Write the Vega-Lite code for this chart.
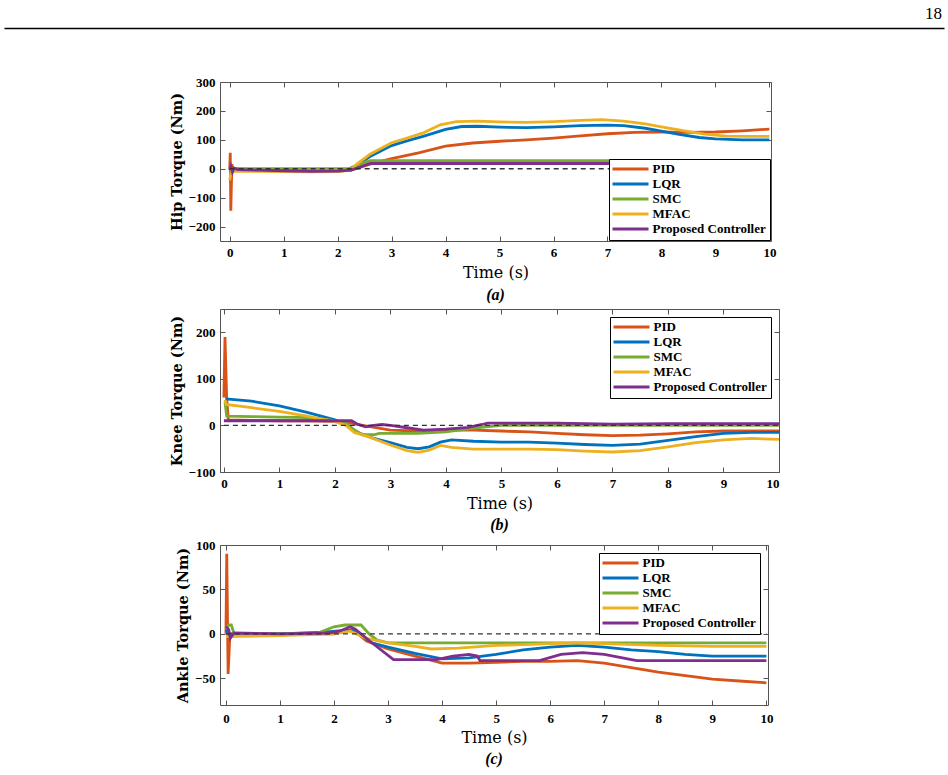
{
  "$schema": "https://vega.github.io/schema/vega-lite/v6.json",
  "padding": {"top": 5, "left": 4, "right": 4, "bottom": 2},
  "background": "white",
  "datasets": {
    "hip": [
      {"c":"PID","t":0,"v":0},{"c":"PID","t":0.01,"v":55},{"c":"PID","t":0.02,"v":-145},{"c":"PID","t":0.04,"v":15},{"c":"PID","t":0.07,"v":-5},{"c":"PID","t":0.5,"v":-6},{"c":"PID","t":1,"v":-8},{"c":"PID","t":1.5,"v":-9},{"c":"PID","t":2,"v":-8},{"c":"PID","t":2.25,"v":-5},{"c":"PID","t":2.4,"v":4},{"c":"PID","t":2.6,"v":16},{"c":"PID","t":3,"v":35},{"c":"PID","t":3.5,"v":55},{"c":"PID","t":4,"v":78},{"c":"PID","t":4.5,"v":89},{"c":"PID","t":5,"v":95},{"c":"PID","t":5.5,"v":100},{"c":"PID","t":6,"v":106},{"c":"PID","t":6.5,"v":114},{"c":"PID","t":7,"v":121},{"c":"PID","t":7.5,"v":126},{"c":"PID","t":8,"v":127},{"c":"PID","t":8.5,"v":126},{"c":"PID","t":9,"v":127},{"c":"PID","t":9.5,"v":131},{"c":"PID","t":10,"v":137},
      {"c":"LQR","t":0,"v":5},{"c":"LQR","t":0.05,"v":0},{"c":"LQR","t":0.5,"v":-3},{"c":"LQR","t":1,"v":-6},{"c":"LQR","t":1.5,"v":-8},{"c":"LQR","t":2,"v":-7},{"c":"LQR","t":2.25,"v":-4},{"c":"LQR","t":2.4,"v":18},{"c":"LQR","t":2.6,"v":42},{"c":"LQR","t":3,"v":80},{"c":"LQR","t":3.3,"v":97},{"c":"LQR","t":3.6,"v":113},{"c":"LQR","t":4,"v":136},{"c":"LQR","t":4.3,"v":146},{"c":"LQR","t":4.6,"v":147},{"c":"LQR","t":5,"v":144},{"c":"LQR","t":5.5,"v":142},{"c":"LQR","t":6,"v":145},{"c":"LQR","t":6.5,"v":149},{"c":"LQR","t":7,"v":151},{"c":"LQR","t":7.3,"v":149},{"c":"LQR","t":7.7,"v":140},{"c":"LQR","t":8,"v":130},{"c":"LQR","t":8.3,"v":120},{"c":"LQR","t":8.7,"v":108},{"c":"LQR","t":9,"v":103},{"c":"LQR","t":9.5,"v":100},{"c":"LQR","t":10,"v":100},
      {"c":"SMC","t":0,"v":0},{"c":"SMC","t":2.2,"v":0},{"c":"SMC","t":2.4,"v":15},{"c":"SMC","t":2.6,"v":28},{"c":"SMC","t":10,"v":28},
      {"c":"MFAC","t":0,"v":-40},{"c":"MFAC","t":0.03,"v":-8},{"c":"MFAC","t":0.5,"v":-9},{"c":"MFAC","t":1,"v":-10},{"c":"MFAC","t":1.5,"v":-11},{"c":"MFAC","t":2,"v":-10},{"c":"MFAC","t":2.25,"v":-5},{"c":"MFAC","t":2.35,"v":15},{"c":"MFAC","t":2.6,"v":50},{"c":"MFAC","t":3,"v":90},{"c":"MFAC","t":3.3,"v":107},{"c":"MFAC","t":3.6,"v":125},{"c":"MFAC","t":3.9,"v":152},{"c":"MFAC","t":4.2,"v":163},{"c":"MFAC","t":4.6,"v":165},{"c":"MFAC","t":5,"v":162},{"c":"MFAC","t":5.5,"v":160},{"c":"MFAC","t":6,"v":163},{"c":"MFAC","t":6.5,"v":167},{"c":"MFAC","t":6.9,"v":170},{"c":"MFAC","t":7.3,"v":165},{"c":"MFAC","t":7.7,"v":155},{"c":"MFAC","t":8,"v":145},{"c":"MFAC","t":8.4,"v":132},{"c":"MFAC","t":8.8,"v":120},{"c":"MFAC","t":9.2,"v":113},{"c":"MFAC","t":9.6,"v":112},{"c":"MFAC","t":10,"v":112},
      {"c":"Proposed Controller","t":0,"v":-5},{"c":"Proposed Controller","t":0.02,"v":8},{"c":"Proposed Controller","t":0.05,"v":-12},{"c":"Proposed Controller","t":0.08,"v":2},{"c":"Proposed Controller","t":0.15,"v":-3},{"c":"Proposed Controller","t":0.5,"v":-5},{"c":"Proposed Controller","t":1,"v":-7},{"c":"Proposed Controller","t":1.5,"v":-9},{"c":"Proposed Controller","t":2,"v":-8},{"c":"Proposed Controller","t":2.25,"v":-5},{"c":"Proposed Controller","t":2.4,"v":5},{"c":"Proposed Controller","t":2.6,"v":18},{"c":"Proposed Controller","t":10,"v":18}
    ],
    "knee": [
      {"c":"PID","t":0,"v":60},{"c":"PID","t":0.02,"v":190},{"c":"PID","t":0.05,"v":60},{"c":"PID","t":0.08,"v":12},{"c":"PID","t":0.5,"v":11},{"c":"PID","t":1,"v":10},{"c":"PID","t":1.5,"v":10},{"c":"PID","t":2,"v":9},{"c":"PID","t":2.2,"v":7},{"c":"PID","t":2.5,"v":0},{"c":"PID","t":3,"v":-10},{"c":"PID","t":3.5,"v":-12},{"c":"PID","t":4,"v":-10},{"c":"PID","t":4.5,"v":-10},{"c":"PID","t":5,"v":-12},{"c":"PID","t":5.5,"v":-14},{"c":"PID","t":6,"v":-17},{"c":"PID","t":6.5,"v":-20},{"c":"PID","t":7,"v":-22},{"c":"PID","t":7.5,"v":-21},{"c":"PID","t":8,"v":-18},{"c":"PID","t":8.5,"v":-14},{"c":"PID","t":9,"v":-12},{"c":"PID","t":9.5,"v":-12},{"c":"PID","t":10,"v":-12},
      {"c":"LQR","t":0.03,"v":57},{"c":"LQR","t":0.5,"v":52},{"c":"LQR","t":1,"v":42},{"c":"LQR","t":1.5,"v":28},{"c":"LQR","t":2,"v":12},{"c":"LQR","t":2.2,"v":2},{"c":"LQR","t":2.4,"v":-15},{"c":"LQR","t":2.7,"v":-28},{"c":"LQR","t":3,"v":-37},{"c":"LQR","t":3.3,"v":-47},{"c":"LQR","t":3.5,"v":-50},{"c":"LQR","t":3.7,"v":-46},{"c":"LQR","t":3.9,"v":-36},{"c":"LQR","t":4.1,"v":-31},{"c":"LQR","t":4.5,"v":-34},{"c":"LQR","t":5,"v":-36},{"c":"LQR","t":5.5,"v":-36},{"c":"LQR","t":6,"v":-38},{"c":"LQR","t":6.5,"v":-41},{"c":"LQR","t":7,"v":-43},{"c":"LQR","t":7.5,"v":-40},{"c":"LQR","t":8,"v":-32},{"c":"LQR","t":8.5,"v":-24},{"c":"LQR","t":9,"v":-17},{"c":"LQR","t":9.5,"v":-15},{"c":"LQR","t":10,"v":-15},
      {"c":"SMC","t":0.02,"v":50},{"c":"SMC","t":0.05,"v":20},{"c":"SMC","t":0.5,"v":19},{"c":"SMC","t":1,"v":18},{"c":"SMC","t":1.5,"v":17},{"c":"SMC","t":1.9,"v":12},{"c":"SMC","t":2.2,"v":5},{"c":"SMC","t":2.35,"v":-10},{"c":"SMC","t":2.5,"v":-20},{"c":"SMC","t":2.7,"v":-20},{"c":"SMC","t":2.8,"v":-17},{"c":"SMC","t":3.5,"v":-17},{"c":"SMC","t":4,"v":-14},{"c":"SMC","t":4.5,"v":-6},{"c":"SMC","t":5,"v":0},{"c":"SMC","t":10,"v":0},
      {"c":"MFAC","t":0.02,"v":55},{"c":"MFAC","t":0.04,"v":45},{"c":"MFAC","t":0.5,"v":38},{"c":"MFAC","t":1,"v":30},{"c":"MFAC","t":1.5,"v":20},{"c":"MFAC","t":2,"v":8},{"c":"MFAC","t":2.2,"v":0},{"c":"MFAC","t":2.35,"v":-15},{"c":"MFAC","t":2.6,"v":-24},{"c":"MFAC","t":3,"v":-42},{"c":"MFAC","t":3.3,"v":-54},{"c":"MFAC","t":3.5,"v":-58},{"c":"MFAC","t":3.7,"v":-53},{"c":"MFAC","t":3.9,"v":-43},{"c":"MFAC","t":4.1,"v":-47},{"c":"MFAC","t":4.5,"v":-51},{"c":"MFAC","t":5,"v":-51},{"c":"MFAC","t":5.5,"v":-51},{"c":"MFAC","t":6,"v":-52},{"c":"MFAC","t":6.5,"v":-55},{"c":"MFAC","t":7,"v":-57},{"c":"MFAC","t":7.5,"v":-54},{"c":"MFAC","t":8,"v":-46},{"c":"MFAC","t":8.5,"v":-37},{"c":"MFAC","t":9,"v":-31},{"c":"MFAC","t":9.5,"v":-28},{"c":"MFAC","t":10,"v":-30},
      {"c":"Proposed Controller","t":0,"v":10},{"c":"Proposed Controller","t":2.3,"v":10},{"c":"Proposed Controller","t":2.4,"v":3},{"c":"Proposed Controller","t":2.55,"v":-3},{"c":"Proposed Controller","t":2.7,"v":0},{"c":"Proposed Controller","t":2.85,"v":2},{"c":"Proposed Controller","t":3,"v":0},{"c":"Proposed Controller","t":3.3,"v":-5},{"c":"Proposed Controller","t":3.6,"v":-10},{"c":"Proposed Controller","t":4,"v":-8},{"c":"Proposed Controller","t":4.4,"v":-4},{"c":"Proposed Controller","t":4.65,"v":2},{"c":"Proposed Controller","t":4.75,"v":5},{"c":"Proposed Controller","t":5,"v":5},{"c":"Proposed Controller","t":6,"v":5},{"c":"Proposed Controller","t":7,"v":3},{"c":"Proposed Controller","t":8,"v":4},{"c":"Proposed Controller","t":9,"v":4},{"c":"Proposed Controller","t":10,"v":4}
    ],
    "ankle": [
      {"c":"PID","t":0,"v":0},{"c":"PID","t":0.015,"v":90},{"c":"PID","t":0.04,"v":-45},{"c":"PID","t":0.07,"v":-5},{"c":"PID","t":0.1,"v":0},{"c":"PID","t":1,"v":0},{"c":"PID","t":2,"v":0},{"c":"PID","t":2.2,"v":3},{"c":"PID","t":2.35,"v":5},{"c":"PID","t":2.6,"v":-8},{"c":"PID","t":3,"v":-17},{"c":"PID","t":3.5,"v":-25},{"c":"PID","t":4,"v":-33},{"c":"PID","t":4.5,"v":-33},{"c":"PID","t":5,"v":-32},{"c":"PID","t":5.5,"v":-31},{"c":"PID","t":6,"v":-31},{"c":"PID","t":6.5,"v":-30},{"c":"PID","t":7,"v":-33},{"c":"PID","t":7.5,"v":-38},{"c":"PID","t":8,"v":-43},{"c":"PID","t":8.5,"v":-47},{"c":"PID","t":9,"v":-51},{"c":"PID","t":9.5,"v":-53},{"c":"PID","t":10,"v":-55},
      {"c":"LQR","t":0,"v":5},{"c":"LQR","t":0.05,"v":0},{"c":"LQR","t":1,"v":0},{"c":"LQR","t":1.8,"v":2},{"c":"LQR","t":2.2,"v":4},{"c":"LQR","t":2.4,"v":3},{"c":"LQR","t":2.7,"v":-10},{"c":"LQR","t":3,"v":-15},{"c":"LQR","t":3.5,"v":-22},{"c":"LQR","t":4,"v":-28},{"c":"LQR","t":4.5,"v":-27},{"c":"LQR","t":5,"v":-23},{"c":"LQR","t":5.5,"v":-18},{"c":"LQR","t":6,"v":-15},{"c":"LQR","t":6.5,"v":-13},{"c":"LQR","t":7,"v":-15},{"c":"LQR","t":7.5,"v":-18},{"c":"LQR","t":8,"v":-20},{"c":"LQR","t":8.5,"v":-23},{"c":"LQR","t":9,"v":-25},{"c":"LQR","t":10,"v":-25},
      {"c":"SMC","t":0,"v":5},{"c":"SMC","t":0.05,"v":10},{"c":"SMC","t":0.1,"v":10},{"c":"SMC","t":0.15,"v":0},{"c":"SMC","t":1,"v":0},{"c":"SMC","t":1.7,"v":1},{"c":"SMC","t":2,"v":8},{"c":"SMC","t":2.2,"v":10},{"c":"SMC","t":2.5,"v":10},{"c":"SMC","t":2.65,"v":0},{"c":"SMC","t":2.8,"v":-7},{"c":"SMC","t":3,"v":-10},{"c":"SMC","t":10,"v":-10},
      {"c":"MFAC","t":0,"v":-3},{"c":"MFAC","t":1,"v":-2},{"c":"MFAC","t":2,"v":0},{"c":"MFAC","t":2.3,"v":3},{"c":"MFAC","t":2.6,"v":-5},{"c":"MFAC","t":3,"v":-10},{"c":"MFAC","t":3.5,"v":-14},{"c":"MFAC","t":3.8,"v":-17},{"c":"MFAC","t":4.3,"v":-16},{"c":"MFAC","t":5,"v":-13},{"c":"MFAC","t":5.5,"v":-12},{"c":"MFAC","t":6,"v":-11},{"c":"MFAC","t":6.5,"v":-10},{"c":"MFAC","t":7,"v":-11},{"c":"MFAC","t":8,"v":-13},{"c":"MFAC","t":9,"v":-14},{"c":"MFAC","t":10,"v":-14},
      {"c":"Proposed Controller","t":0,"v":8},{"c":"Proposed Controller","t":0.05,"v":5},{"c":"Proposed Controller","t":0.08,"v":-5},{"c":"Proposed Controller","t":0.15,"v":1},{"c":"Proposed Controller","t":1,"v":0},{"c":"Proposed Controller","t":1.9,"v":1},{"c":"Proposed Controller","t":2.1,"v":3},{"c":"Proposed Controller","t":2.3,"v":8},{"c":"Proposed Controller","t":2.4,"v":5},{"c":"Proposed Controller","t":2.7,"v":-10},{"c":"Proposed Controller","t":3.1,"v":-29},{"c":"Proposed Controller","t":3.9,"v":-29},{"c":"Proposed Controller","t":4.2,"v":-25},{"c":"Proposed Controller","t":4.5,"v":-23},{"c":"Proposed Controller","t":4.65,"v":-25},{"c":"Proposed Controller","t":4.7,"v":-30},{"c":"Proposed Controller","t":5.8,"v":-30},{"c":"Proposed Controller","t":6.2,"v":-23},{"c":"Proposed Controller","t":6.6,"v":-21},{"c":"Proposed Controller","t":7,"v":-23},{"c":"Proposed Controller","t":7.6,"v":-30},{"c":"Proposed Controller","t":10,"v":-30}
    ]
  },
  "vconcat": [
    {
      "width": 940,
      "height": 43,
      "data": {"values": [{"pos": 1, "row": 1, "page": "18"}]},
      "mark": {"type": "text", "align": "right", "baseline": "bottom", "dx": -2, "dy": -5, "font": "Liberation Serif", "fontSize": 17, "color": "#000"},
      "encoding": {
        "x": {"field": "pos", "type": "quantitative", "scale": {"domain": [0, 1], "nice": false}, "axis": {"orient": "top", "domain": true, "domainColor": "#000", "domainWidth": 1.5, "ticks": false, "labels": false, "title": null}},
        "y": {"field": "row", "type": "quantitative", "scale": {"domain": [0, 1], "nice": false}, "axis": null},
        "text": {"field": "page"}
      }
    },
    {
      "hconcat": [
        {
          "width": 164,
          "height": 10,
          "data": {"values": [{"k": 0}]},
          "mark": {"type": "point", "opacity": 0},
          "encoding": {}
        },
        {
          "vconcat": [
            {
              "width": 551,
              "height": 159,
              "view": {"stroke": "#555"},
              "title": {"text": "(a)", "orient": "bottom", "anchor": "middle", "font": "Liberation Serif", "fontStyle": "italic", "fontWeight": "bold", "fontSize": 16, "color": "#000", "offset": 7},
              "layer": [
                {
                  "data": {"name": "hip"},
                  "mark": {"type": "line", "strokeWidth": 2.8, "clip": true},
                  "encoding": {
                    "x": {"field": "t", "type": "quantitative", "scale": {"domain": [-0.18, 10.03], "nice": false, "zero": false}, "axis": {"orient": "bottom", "values": [0,1,2,3,4,5,6,7,8,9,10], "title": "Time (s)", "titlePadding": 5}},
                    "y": {"field": "v", "type": "quantitative", "scale": {"domain": [-250, 300], "nice": false}, "axis": {"orient": "left", "values": [-200,-100,0,100,200,300], "title": "Hip Torque (Nm)"}},
                    "color": {"field": "c", "type": "nominal", "scale": {"domain": ["PID","LQR","SMC","MFAC","Proposed Controller"], "range": ["#D95319","#0072BD","#77AC30","#EDB120","#7E2F8E"]}, "legend": {"orient": "bottom-right", "offset": 1}}
                  }
                },
                {
                  "data": {"values": [{"t0": 0, "t1": 10, "z": 0}]},
                  "mark": {"type": "rule", "color": "#333", "strokeWidth": 1.3, "strokeDash": [5, 4]},
                  "encoding": {
                    "x": {"field": "t0", "type": "quantitative", "scale": {"domain": [-0.18, 10.03], "nice": false, "zero": false}, "axis": {"orient": "top", "values": [0,1,2,3,4,5,6,7,8,9,10], "labels": false, "title": null}},
                    "x2": {"field": "t1"},
                    "y": {"field": "z", "type": "quantitative", "axis": {"orient": "right", "values": [-200,-100,0,100,200,300], "labels": false, "title": null}}
                  }
                }
              ]
            },
            {
              "width": 559,
              "height": 163,
              "view": {"stroke": "#555"},
              "title": {"text": "(b)", "orient": "bottom", "anchor": "middle", "font": "Liberation Serif", "fontStyle": "italic", "fontWeight": "bold", "fontSize": 16, "color": "#000", "offset": 6},
              "layer": [
                {
                  "data": {"name": "knee"},
                  "mark": {"type": "line", "strokeWidth": 2.8, "clip": true},
                  "encoding": {
                    "x": {"field": "t", "type": "quantitative", "scale": {"domain": [-0.07, 10], "nice": false, "zero": false}, "axis": {"orient": "bottom", "values": [0,1,2,3,4,5,6,7,8,9,10], "title": "Time (s)", "titlePadding": 5}},
                    "y": {"field": "v", "type": "quantitative", "scale": {"domain": [-100, 250], "nice": false}, "axis": {"orient": "left", "values": [-100,0,100,200], "title": "Knee Torque (Nm)"}},
                    "color": {"field": "c", "type": "nominal", "scale": {"domain": ["PID","LQR","SMC","MFAC","Proposed Controller"], "range": ["#D95319","#0072BD","#77AC30","#EDB120","#7E2F8E"]}, "legend": {"orient": "top-right", "offset": 8}}
                  }
                },
                {
                  "data": {"values": [{"t0": 0, "t1": 10, "z": 0}]},
                  "mark": {"type": "rule", "color": "#333", "strokeWidth": 1.3, "strokeDash": [5, 4]},
                  "encoding": {
                    "x": {"field": "t0", "type": "quantitative", "scale": {"domain": [-0.07, 10], "nice": false, "zero": false}, "axis": {"orient": "top", "values": [0,1,2,3,4,5,6,7,8,9,10], "labels": false, "title": null}},
                    "x2": {"field": "t1"},
                    "y": {"field": "z", "type": "quantitative", "axis": {"orient": "right", "values": [-100,0,100,200], "labels": false, "title": null}}
                  }
                }
              ]
            },
            {
              "width": 548,
              "height": 160,
              "view": {"stroke": "#555"},
              "title": {"text": "(c)", "orient": "bottom", "anchor": "middle", "font": "Liberation Serif", "fontStyle": "italic", "fontWeight": "bold", "fontSize": 16, "color": "#000", "offset": 6},
              "layer": [
                {
                  "data": {"name": "ankle"},
                  "mark": {"type": "line", "strokeWidth": 2.8, "clip": true},
                  "encoding": {
                    "x": {"field": "t", "type": "quantitative", "scale": {"domain": [-0.11, 10.03], "nice": false, "zero": false}, "axis": {"orient": "bottom", "values": [0,1,2,3,4,5,6,7,8,9,10], "title": "Time (s)", "labelPadding": 12, "titlePadding": 4}},
                    "y": {"field": "v", "type": "quantitative", "scale": {"domain": [-80, 100], "nice": false}, "axis": {"orient": "left", "values": [-50,0,50,100], "title": "Ankle Torque (Nm)"}},
                    "color": {"field": "c", "type": "nominal", "scale": {"domain": ["PID","LQR","SMC","MFAC","Proposed Controller"], "range": ["#D95319","#0072BD","#77AC30","#EDB120","#7E2F8E"]}, "legend": {"orient": "top-right", "offset": 8}}
                  }
                },
                {
                  "data": {"values": [{"t0": 0, "t1": 10, "z": 0}]},
                  "mark": {"type": "rule", "color": "#333", "strokeWidth": 1.3, "strokeDash": [5, 4]},
                  "encoding": {
                    "x": {"field": "t0", "type": "quantitative", "scale": {"domain": [-0.11, 10.03], "nice": false, "zero": false}, "axis": {"orient": "top", "values": [0,1,2,3,4,5,6,7,8,9,10], "labels": false, "title": null}},
                    "x2": {"field": "t1"},
                    "y": {"field": "z", "type": "quantitative", "axis": {"orient": "right", "values": [-50,0,50,100], "labels": false, "title": null}}
                  }
                }
              ]
            }
          ],
          "spacing": 4,
          "resolve": {"scale": {"color": "independent", "x": "independent", "y": "independent"}, "legend": {"color": "independent"}}
        }
      ],
      "spacing": 0
    }
  ],
  "spacing": 4,
  "config": {
    "view": {"stroke": null},
    "axis": {
      "grid": false,
      "domain": false,
      "tickSize": -5,
      "tickColor": "#555",
      "tickWidth": 1,
      "labelFont": "Liberation Serif",
      "labelFontWeight": "bold",
      "labelFontSize": 13,
      "labelColor": "#000",
      "titleColor": "#000",
      "titleFont": "DejaVu Serif"
    },
    "axisX": {"labelPadding": 10, "titleFontSize": 16, "titleFontWeight": "normal", "titlePadding": 3},
    "axisY": {"labelPadding": 10, "titleFontSize": 14.5, "titleFontWeight": "bold", "titlePadding": 4},
    "legend": {
      "title": null,
      "strokeColor": "#000",
      "fillColor": "#fff",
      "padding": 3.5,
      "symbolType": "M-1.3,0H5.9",
      "symbolSize": 100,
      "symbolStrokeWidth": 3,
      "labelOffset": 27,
      "rowPadding": 1,
      "labelFont": "Liberation Serif",
      "labelFontWeight": "bold",
      "labelFontSize": 13,
      "labelColor": "#000",
      "labelLimit": 300
    }
  }
}
